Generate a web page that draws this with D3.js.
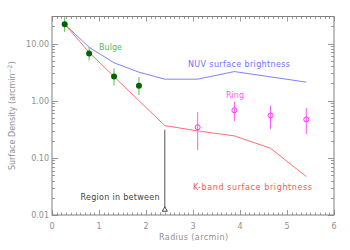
<!DOCTYPE html>
<html><head><meta charset="utf-8">
<script src="https://cdn.jsdelivr.net/npm/d3@7"></script>
<style>body{margin:0;background:#fff}svg{display:block}text{font-family:"DejaVu Sans",sans-serif}</style>
</head><body><svg id="c" width="350" height="250"></svg>
<script>
// ---- data ----
const bulgeR  = [0.27, 0.79, 1.32, 1.85];
const bulgeV  = [21.8, 6.7, 2.64, 1.82];
const bulgeLo = [16.0, 5.04, 1.84, 1.25];
const bulgeHi = [29.0, 8.65, 3.7, 2.58];

const profileR = [0.27, 0.79, 1.32, 1.85, 2.4, 3.1, 3.88, 4.65, 5.41];
const nuvV     = [21.8, 8.6, 4.6, 3.15, 2.38, 2.38, 3.23, 2.61, 2.11];
const kbandV   = [21.8, 7.0, 2.64, 1.0, 0.366, 0.296, 0.242, 0.147, 0.047];

const ringR  = [3.1, 3.88, 4.65, 5.41];
const ringV  = [0.343, 0.68, 0.55, 0.47];
const ringLo = [0.137, 0.44, 0.32, 0.26];
const ringHi = [0.63, 0.96, 0.82, 0.74];

const regionR  = [2.4];
const regionV  = [0.0126];
const regionHi = [0.31];

const xTicks = [0, 1, 2, 3, 4, 5, 6];
const yTicks = [0.01, 0.1, 1, 10];
const yTickLabels = ["0.01", "0.10", "1.00", "10.00"];

// ---- layout ----
const svg = d3.select("#c");
const L = 52, R = 334, T = 16.5, B = 215;
const x = d3.scaleLinear().domain([0, 6]).range([L, R]);
const y = d3.scaleLog().domain([0.01, 29.7]).range([B, T]);
const axisCol = "#808080";

svg.append("rect").attr("width", 350).attr("height", 250).attr("fill", "#fff");

// frame
svg.append("rect").attr("x", L).attr("y", T).attr("width", R - L).attr("height", B - T)
  .attr("fill", "none").attr("stroke", axisCol).attr("stroke-width", 1);

// x ticks (major and minor, bottom and top, inward)
const g = svg.append("g").attr("stroke", axisCol).attr("stroke-width", 0.8);
for (let i = 0; i <= 60; i++) {
  const v = i / 10, px = Math.round(x(v)) + 0.5;
  const len = (i % 10 === 0) ? 5 : 2.5;
  g.append("line").attr("x1", px).attr("x2", px).attr("y1", B).attr("y2", B - len);
  g.append("line").attr("x1", px).attr("x2", px).attr("y1", T).attr("y2", T + len);
}
// y ticks (log minor)
for (let e = -2; e <= 1; e++) {
  for (let m = 1; m <= 9; m++) {
    const v = m * Math.pow(10, e);
    if (v > 29.7) continue;
    const py = Math.round(y(v)) + 0.5;
    const len = (m === 1) ? 6 : 3;
    g.append("line").attr("x1", L).attr("x2", L + len).attr("y1", py).attr("y2", py);
    g.append("line").attr("x1", R).attr("x2", R - len).attr("y1", py).attr("y2", py);
  }
}

// tick labels
svg.append("g").selectAll("text").data(xTicks).join("text")
  .attr("x", d => x(d)).attr("y", 229).attr("text-anchor", "middle")
  .attr("font-size", 8).attr("fill", "#909090").text(d => d);
svg.append("g").selectAll("text").data(yTicks).join("text")
  .attr("x", 49).attr("y", d => y(d) + 3).attr("text-anchor", "end")
  .attr("font-size", 8).attr("fill", "#909090").text((d, i) => yTickLabels[i]);

// axis titles
svg.append("text").attr("x", 159).attr("y", 240)
  .attr("textLength", 69).attr("lengthAdjust", "spacing")
  .attr("font-size", 8).attr("fill", "#909090").text("Radius (arcmin)");
const yl = svg.append("text").attr("transform", `translate(15,${(T + B) / 2}) rotate(-90)`)
  .attr("text-anchor", "middle").attr("font-size", 8).attr("fill", "#909090");
yl.append("tspan").text("Surface Density (arcmin");
yl.append("tspan").attr("font-size", 6).attr("dy", -3).text("−2");
yl.append("tspan").attr("dy", 3).text(")");

// lines
const line = d3.line().x(d => x(d[0])).y(d => y(d[1]));
svg.append("path").datum(d3.zip(profileR, nuvV)).attr("d", line)
  .attr("fill", "none").attr("stroke", "#8080ff").attr("stroke-width", 1);
svg.append("path").datum(d3.zip(profileR, kbandV)).attr("d", line)
  .attr("fill", "none").attr("stroke", "#ff7070").attr("stroke-width", 1);

// region in between
regionR.forEach((r, i) => {
  svg.append("line").attr("x1", x(r)).attr("x2", x(r)).attr("y1", y(regionHi[i])).attr("y2", y(regionV[i]))
    .attr("stroke", "#555").attr("stroke-width", 1);
  const px = x(r), py = y(regionV[i]);
  svg.append("path").attr("d", `M${px},${py - 2.5}L${px + 2.5},${py + 2}L${px - 2.5},${py + 2}Z`)
    .attr("fill", "#fff").attr("stroke", "#333").attr("stroke-width", 0.9);
});

// ring
ringR.forEach((r, i) => {
  svg.append("line").attr("x1", x(r)).attr("x2", x(r)).attr("y1", y(ringHi[i])).attr("y2", y(ringLo[i]))
    .attr("stroke", "#ff55ff").attr("stroke-width", 1);
  svg.append("circle").attr("cx", x(r)).attr("cy", y(ringV[i])).attr("r", 2.5)
    .attr("fill", "none").attr("stroke", "#ff33ff").attr("stroke-width", 1);
});

// bulge
bulgeR.forEach((r, i) => {
  svg.append("line").attr("x1", x(r)).attr("x2", x(r)).attr("y1", y(bulgeHi[i])).attr("y2", y(bulgeLo[i]))
    .attr("stroke", "#55bb55").attr("stroke-width", 1);
  svg.append("circle").attr("cx", x(r)).attr("cy", y(bulgeV[i])).attr("r", 3)
    .attr("fill", "#006400");
});

// labels
const lab = (t, px, py, w, col) => svg.append("text").attr("x", px).attr("y", py)
  .attr("textLength", w).attr("lengthAdjust", "spacing")
  .attr("font-size", 8).attr("fill", col).text(t);
lab("Bulge", 99, 50, 23, "#55bb55");
lab("NUV surface brightness", 188, 67, 102, "#7070ff");
lab("Ring", 226, 98, 18, "#ff55ff");
lab("K-band surface brightness", 193, 189.5, 119, "#ff5555");
lab("Region in between", 80.5, 199.5, 79, "#444");
</script></body></html>
